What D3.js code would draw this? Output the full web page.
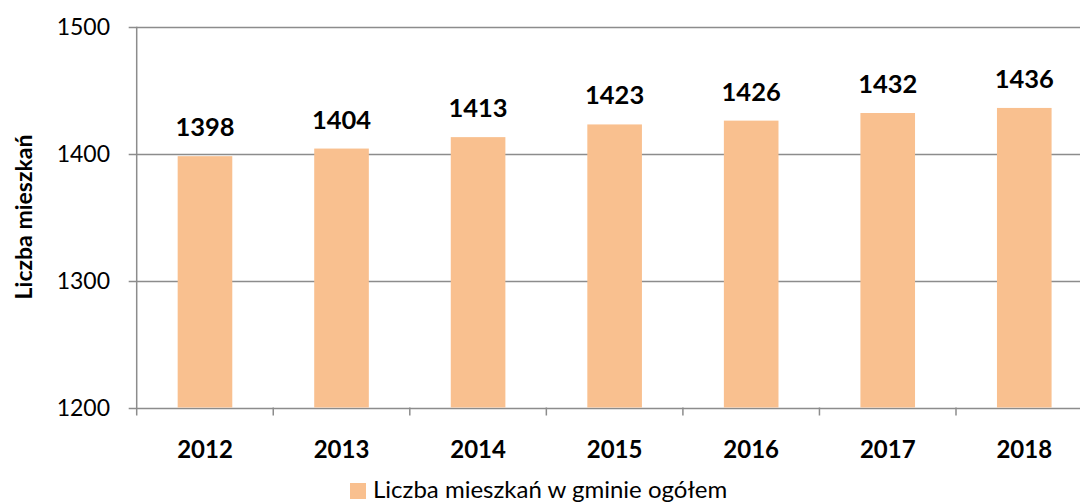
<!DOCTYPE html>
<html><head><meta charset="utf-8">
<script src="https://cdn.jsdelivr.net/npm/d3@7"></script>
<style>body{margin:0;background:#fff;overflow:hidden}svg{display:block}</style>
</head><body>
<svg id="c" width="1080" height="502"></svg>
<script>
const categories = ["2012","2013","2014","2015","2016","2017","2018"];
const values = [1398,1404,1413,1423,1426,1432,1436];
const yTicks = [1200,1300,1400,1500];
const seriesName = "Liczba mieszkań w gminie ogółem";
const yTitle = "Liczba mieszkań";

const svg = d3.select("#c");
const font = "Lato, 'Open Sans', sans-serif";
const left = 136.7, step = 136.55;
const x = d3.scaleBand().domain(categories).range([left, left + step*categories.length]).paddingInner(0.6).paddingOuter(0.3);
const y = d3.scaleLinear().domain([1200,1500]).range([407.5, 26.7]);
const grid = "#8c8c8c";

// gridlines
svg.append("g").selectAll("line").data(yTicks).join("line")
  .attr("x1", left - 8).attr("x2", 1080)
  .attr("y1", d => Math.round(y(d))+0.5).attr("y2", d => Math.round(y(d))+0.5)
  .attr("stroke", grid).attr("stroke-width", 1.5);

// y tick labels
svg.append("g").selectAll("text").data(yTicks).join("text")
  .attr("x", 110).attr("y", d => y(d)).attr("dy", "0.35em")
  .attr("text-anchor", "end").attr("font-family", font).attr("font-size", 23)
  .attr("fill", "#000").text(d => d);

// bars
svg.append("g").selectAll("rect").data(values).join("rect")
  .attr("x", (d,i) => x(categories[i])).attr("width", x.bandwidth())
  .attr("y", d => y(d)).attr("height", d => y(1200) - y(d))
  .attr("fill", "#F9C08F");

// y axis line
svg.append("line").attr("x1", left).attr("x2", left).attr("y1", y(1500)).attr("y2", y(1200)+8)
  .attr("stroke", grid).attr("stroke-width", 1.5);
// x axis ticks
const tickXs = d3.range(1, categories.length).map(i => left + i*x.step());
svg.append("g").selectAll("line").data(tickXs).join("line")
  .attr("x1", d => d).attr("x2", d => d).attr("y1", y(1200)).attr("y2", y(1200)+8)
  .attr("stroke", grid).attr("stroke-width", 1.5);

// data labels
svg.append("g").selectAll("text").data(values).join("text")
  .attr("x", (d,i) => x(categories[i]) + x.bandwidth()/2).attr("y", d => y(d) - 20)
  .attr("text-anchor", "middle").attr("font-family", font).attr("font-weight", "bold")
  .attr("font-size", 25.5).attr("fill", "#000").text(d => d);

// x labels
svg.append("g").selectAll("text").data(categories).join("text")
  .attr("x", d => x(d) + x.bandwidth()/2).attr("y", 458)
  .attr("text-anchor", "middle").attr("font-family", font).attr("font-weight", "bold")
  .attr("font-size", 24).attr("fill", "#000").text(d => d);

// y title
svg.append("text").attr("transform", "translate(32,217) rotate(-90)")
  .attr("text-anchor", "middle").attr("font-family", font).attr("font-weight", "bold")
  .attr("font-size", 23).attr("fill", "#000").text(yTitle);

// legend
svg.append("rect").attr("x", 350).attr("y", 483).attr("width", 16).attr("height", 16).attr("fill", "#F9C08F");
svg.append("text").attr("x", 373).attr("y", 498).attr("font-family", font).attr("font-size", 24)
  .attr("fill", "#000").text(seriesName);
</script>
</body></html>
